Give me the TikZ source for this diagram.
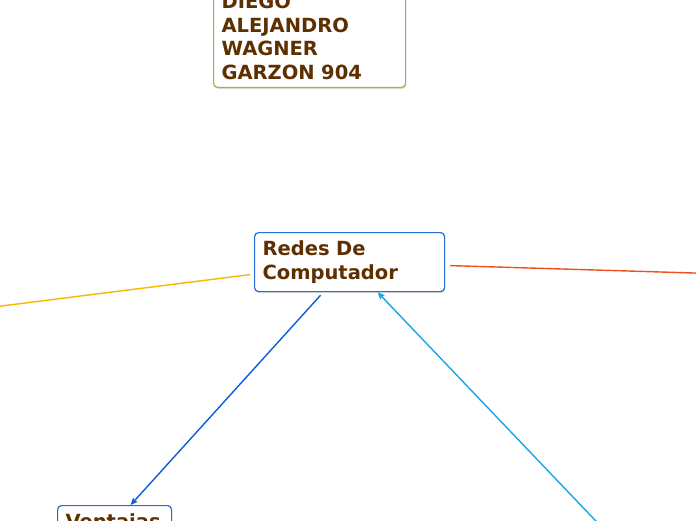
\documentclass[tikz,border=0pt]{standalone}
\usepackage{fontspec}
\setmainfont{DejaVu Sans}
\usetikzlibrary{shadows,arrows.meta}
\definecolor{textbrown}{RGB}{94,48,0}
\definecolor{boxgreen}{RGB}{140,190,64}
\definecolor{boxblue}{RGB}{36,110,214}
\definecolor{lineamber}{RGB}{246,184,0}
\definecolor{linered}{RGB}{240,80,30}
\definecolor{lineblue}{RGB}{10,95,214}
\definecolor{linesky}{RGB}{26,163,232}
\tikzset{
  topic/.style={draw, rounded corners=4pt, line width=1.2pt, fill=white,
    text=textbrown, font=\fontsize{19.5}{23.5}\selectfont\bfseries,
    align=left, inner sep=8pt,
    drop shadow={shadow xshift=0.6pt, shadow yshift=-1.5pt, opacity=0.25}},
  branch/.style={line width=1.4pt}
}
\begin{document}
\begin{tikzpicture}[x=1pt, y=-1pt, >={Stealth[length=7pt, width=6pt, inset=1pt]}]
    \useasboundingbox (0, 0) rectangle (696, 520);
    \clip (0, 0) rectangle (696, 520);

    % 标题
    \node[topic, draw=boxgreen, text width=176pt, anchor=south west] (title) at (213, 88)
        {DIEGO\\ALEJANDRO\\WAGNER\\GARZON 904};

    % 中心
    \node[topic, draw=boxblue, text width=174pt, minimum height=59pt, anchor=north west] (redes) at (254, 232)
        {Redes De\\Computador};

    % 分支
    \node[topic, draw=boxblue, text width=98pt, anchor=north west] (ventajas) at (57, 505)
        {Ventajas};

    % 画面外的端点
    \coordinate (leftend) at (-100, 318.8);
    \coordinate (rightend) at (750, 274.7);
    \coordinate (bottomend) at (620, 546.3);

    % 连线
    \draw[branch, lineamber] ([xshift=-4pt, yshift=-12.5pt]redes.west) -- (leftend);
    \draw[branch, linered] ([xshift=5pt, yshift=-3.5pt]redes.east) -- (rightend);
    \draw[branch, lineblue, ->] ([xshift=-29pt, yshift=-3pt]redes.south) -- ([xshift=16pt]ventajas.north);
    \draw[branch, linesky, ->] (bottomend) -- ([xshift=28pt]redes.south);
\end{tikzpicture}
\end{document}
